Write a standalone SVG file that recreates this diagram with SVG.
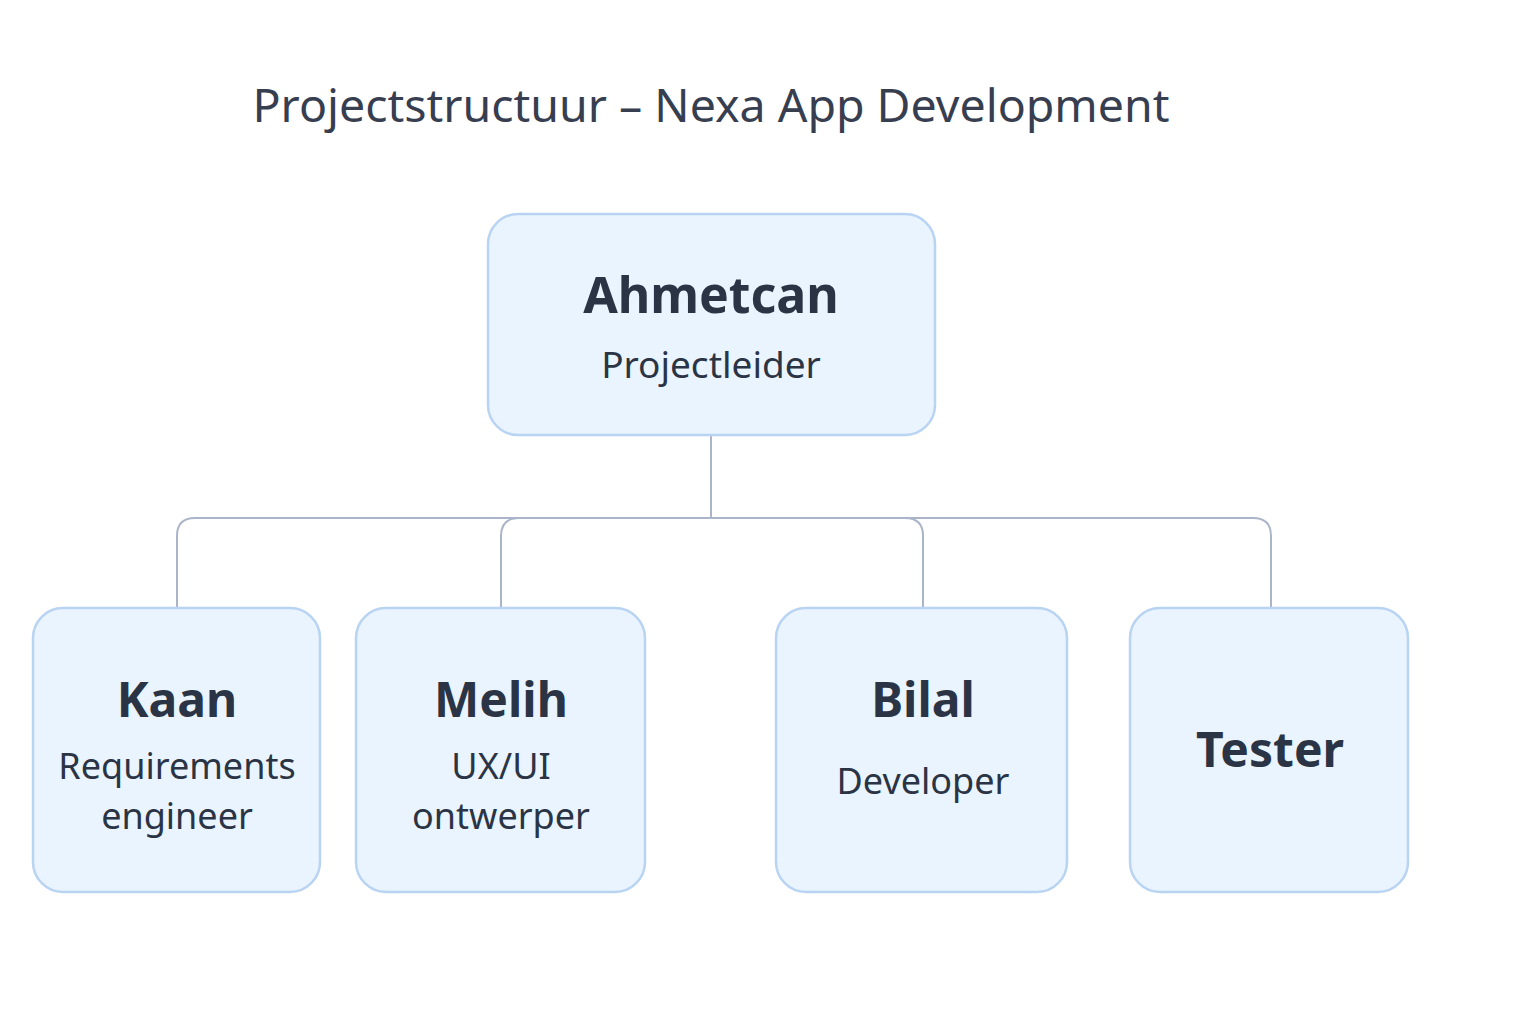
<svg xmlns="http://www.w3.org/2000/svg" width="1536" height="1024" viewBox="0 0 1536 1024">
<style>
.box{fill:#eaf4fe;stroke:#b9d4f2;stroke-width:2.5}
.name{font-family:"Noto Sans","DejaVu Sans",sans-serif;font-weight:700;fill:#2b3445;text-anchor:middle}
.role{font-family:"Noto Sans","DejaVu Sans",sans-serif;fill:#2b3445;text-anchor:middle;font-size:36px}
.conn{fill:none;stroke:#abb5c9;stroke-width:2}
</style>
<rect width="1536" height="1024" fill="#ffffff"/>
<text x="711" y="122" font-family="'Noto Sans','DejaVu Sans',sans-serif" font-size="46" fill="#373e50" text-anchor="middle" textLength="917" lengthAdjust="spacingAndGlyphs">Projectstructuur – Nexa App Development</text>
<g id="connectors">
<path class="conn" d="M711 435 V518"/>
<path class="conn" d="M177 608 V536 Q177 518 195 518 H1253 Q1271 518 1271 536 V608"/>
<path class="conn" d="M501 608 V536 Q501 518 519 518"/>
<path class="conn" d="M923 608 V536 Q923 518 905 518"/>
</g>
<g id="ahmetcan">
<rect class="box" x="488" y="214" width="447" height="221" rx="30"/>
<text class="name" x="711" y="313" font-size="50">Ahmetcan</text>
<text class="role" x="711" y="378" font-size="37" style="font-size:37px">Projectleider</text>
</g>
<g id="kaan">
<rect class="box" x="33" y="608" width="287" height="284" rx="30"/>
<text class="name" x="177" y="717" font-size="48">Kaan</text>
<text class="role" x="177" y="779">Requirements</text>
<text class="role" x="177" y="829">engineer</text>
</g>
<g id="melih">
<rect class="box" x="356" y="608" width="289" height="284" rx="30"/>
<text class="name" x="501" y="717" font-size="48">Melih</text>
<text class="role" x="501" y="779">UX/UI</text>
<text class="role" x="501" y="829">ontwerper</text>
</g>
<g id="bilal">
<rect class="box" x="776" y="608" width="291" height="284" rx="30"/>
<text class="name" x="923" y="717" font-size="48">Bilal</text>
<text class="role" x="923" y="794">Developer</text>
</g>
<g id="tester">
<rect class="box" x="1130" y="608" width="278" height="284" rx="30"/>
<text class="name" x="1270" y="767" font-size="48">Tester</text>
</g>
</svg>
